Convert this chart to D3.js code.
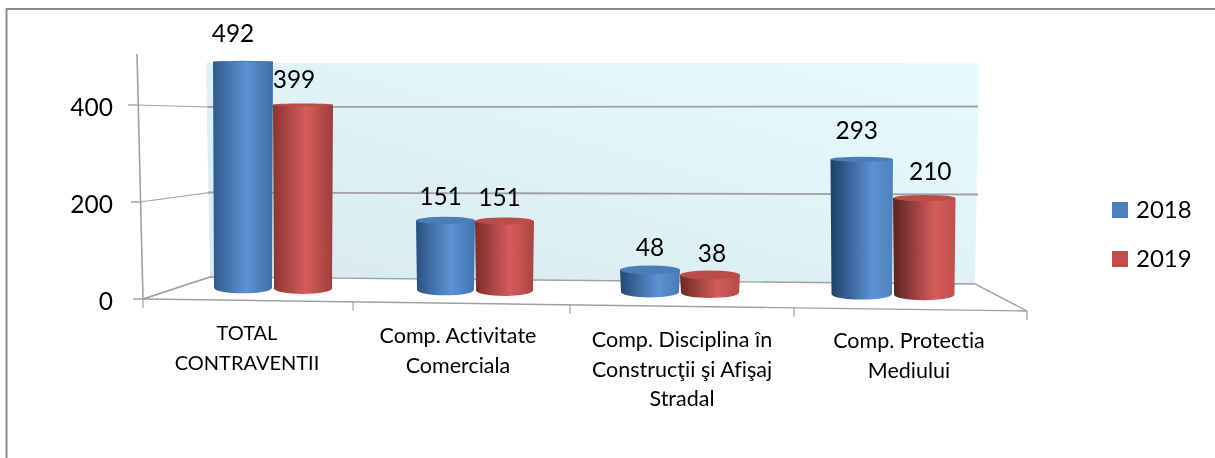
<!DOCTYPE html>
<html><head><meta charset="utf-8">
<style>html,body{margin:0;padding:0;background:#fff}svg{display:block}text{font-family:Lato,"Open Sans",sans-serif;fill:#000;font-variant-ligatures:none}</style>
<script src="https://cdn.jsdelivr.net/npm/d3@7/dist/d3.min.js"></script>
</head><body><div id="c"></div>
<script>
const categories = [["TOTAL","CONTRAVENTII"],["Comp. Activitate","Comerciala"],["Comp. Disciplina în","Construcţii şi Afişaj","Stradal"],["Comp. Protectia","Mediului"]];
const seriesNames = ["2018","2019"];
const values2018 = [492,151,48,293];
const values2019 = [399,151,38,210];
const yTicks = [0,200,400];

const W=1215,H=458;
const svg=d3.select("#c").append("svg").attr("width",W).attr("height",H);
const defs=svg.append("defs");
function softFilter(id,sd){
  defs.append("filter").attr("id",id).attr("x","-5%").attr("y","-5%").attr("width","110%").attr("height","110%")
    .append("feGaussianBlur").attr("stdDeviation",sd);
}
softFilter("soft",0.6);
softFilter("softText",0.3);
const wall=defs.append("linearGradient").attr("id","wall").attr("x1",0).attr("y1",1).attr("x2",1).attr("y2",0);
wall.append("stop").attr("offset",0).attr("stop-color","#d8e9f0");
wall.append("stop").attr("offset",1).attr("stop-color","#e6fbff");

// frame
svg.append("path").attr("d",`M6.5,${H}V9H1215`).attr("fill","none").attr("stroke","#8c8c8c").attr("stroke-width",2);

const g=svg.append("g").attr("filter","url(#soft)");
const txt=svg.append("g").attr("filter","url(#softText)");

// scales: wall, front floor edge, mid-depth bar plane
const wallY=d3.scaleLinear().domain([0,400]).range([278,107]);
const frontY=d3.scaleLinear().domain([0,400]).range([299,105]);
const tickX=d3.scaleLinear().domain([0,1,2,3,4]).range([143,353,570,794,1027]);
const floorY=d3.scaleLinear().domain([143,1027]).range([299,311]);
const catX=d3.scaleLinear().domain([0,1,2,3]).range([273,475,680,893]);
const barWidth=d3.scaleOrdinal().domain([0,1,2,3]).range([60,59,60,62.5]);
const heightPx=d3.scaleLinear().domain([0,500]).range([0,230]);
const baseY=d3.scaleLinear().domain([213,955]).range([287.5,295]);
const ryOf=d3.scaleLinear().domain([60,300]).range([0.6,5]).clamp(true);

// back wall
g.append("path").attr("d",`M206,63H979L975,284L210,277Z`).attr("fill","url(#wall)");
const axisCol="#a0a0a0";
const wallSlope={200:2,400:-0.5};
yTicks.slice(1).forEach(t=>{
  g.append("line").attr("x1",208).attr("x2",978).attr("y1",wallY(t)).attr("y2",wallY(t)+wallSlope[t]).attr("stroke",axisCol).attr("stroke-width",1.8);
});
// floor
g.append("path").attr("d",`M143,299L210,277L975,284L1027,311Z`).attr("fill","#fff");
g.append("path").attr("d",`M143,299L210,277L975,284L1027,311`).attr("fill","none").attr("stroke",axisCol).attr("stroke-width",1.4);
g.append("line").attr("x1",143).attr("y1",299).attr("x2",1027).attr("y2",311).attr("stroke",axisCol).attr("stroke-width",1.4);
// left side gridlines and axis
const ticksLeft=[[0,133,143],[200,131,140],[400,128,137]];
ticksLeft.forEach(([t,x0,x1])=>{
  g.append("line").attr("x1",x0).attr("x2",x1).attr("y1",frontY(t)).attr("y2",frontY(t)).attr("stroke",axisCol).attr("stroke-width",1.4);
  g.append("line").attr("x1",x1).attr("x2",210).attr("y1",frontY(t)).attr("y2",t==0?277:wallY(t)).attr("stroke",axisCol).attr("stroke-width",1.2);
});
g.append("line").attr("x1",137).attr("y1",54).attr("x2",143).attr("y2",299).attr("stroke",axisCol).attr("stroke-width",1.6);
d3.range(5).forEach(i=>{
  g.append("line").attr("x1",tickX(i)).attr("x2",tickX(i)).attr("y1",floorY(tickX(i))).attr("y2",floorY(tickX(i))+9).attr("stroke",axisCol).attr("stroke-width",1.2);
});

// y labels
txt.selectAll(".yl").data(yTicks).join("text").attr("class","yl")
  .attr("x",113).attr("text-anchor","end").attr("y",d=>frontY(d)+11).attr("font-size",24.5).text(d=>d);

// cylinders
const palette={
  "2018":{dark:"#2f5a8c",deep:"#1f3f66",mid:"#5b92d6",edge:"#3d6ea6",side:"#4f81bd"},
  "2019":{dark:"#8a3433",deep:"#5a2322",mid:"#d65c5a",edge:"#9c3f3d",side:"#c0504d"}
};
const bars=[];
categories.forEach((c,i)=>{
  seriesNames.forEach((s,j)=>{
    bars.push({i,s,j,v:(j?values2019:values2018)[i]});
  });
});
const shade=d3.scaleLinear().domain([0,3]).range([0,1]);
// offsets of each value label from its bar's top centre
const labelDx=[[-10,-9],[-5,-5],[0,2],[-5,6]];
const labelDy=[[-19,-17],[-15,-15],[-14,-13],[-20,-18]];

bars.forEach((b,k)=>{
  const p=palette[b.s];
  const id="cyl"+k;
  const t=shade(b.i);
  const gr=defs.append("linearGradient").attr("id",id).attr("x1",0).attr("x2",1).attr("y1",0).attr("y2",0);
  gr.append("stop").attr("offset",0).attr("stop-color",d3.interpolateLab(p.dark,p.deep)(t));
  gr.append("stop").attr("offset",0.55+t*0.12).attr("stop-color",p.mid);
  gr.append("stop").attr("offset",1).attr("stop-color",d3.interpolateLab(p.edge,p.side)(t));
  const w=barWidth(b.i), rx=w/2;
  const cx=catX(b.i)+(b.j?rx:-rx);
  const x0=cx-rx,x1=cx+rx;
  const by=baseY(cx);
  const ty=by-heightPx(b.v);
  g.append("path").attr("d",`M${x0},${ty}L${x0+1},${by}A${rx-1},5.5 0 0 0 ${x1-1},${by}L${x1},${ty}Z`).attr("fill",`url(#${id})`);
  g.append("ellipse").attr("cx",cx).attr("cy",ty).attr("rx",rx).attr("ry",ryOf(ty)).attr("fill",d3.interpolateLab(p.side,p.dark)(0.1));
  txt.append("text").attr("x",cx+labelDx[b.i][b.j]).attr("y",ty+labelDy[b.i][b.j]).attr("text-anchor","middle").attr("font-size",24.5).text(b.v);
});

// category labels
const labelCx=[247,458,682,909];
const labelTop=[340,343,347,348];
categories.forEach((lines,i)=>{
  lines.forEach((t,n)=>{
    const caps=t===t.toUpperCase();
    txt.append("text").attr("x",labelCx[i]).attr("y",labelTop[i]+n*29.5).attr("text-anchor","middle")
      .attr("font-size",caps?20:21.5).text(t);
  });
});

// legend
seriesNames.forEach((s,i)=>{
  const y=[210,259][i];
  svg.append("rect").attr("x",1112).attr("y",y-8).attr("width",16).attr("height",16).attr("fill",palette[s].side);
  txt.append("text").attr("x",1136).attr("y",y+8).attr("font-size",24).text(s);
});
</script></body></html>
